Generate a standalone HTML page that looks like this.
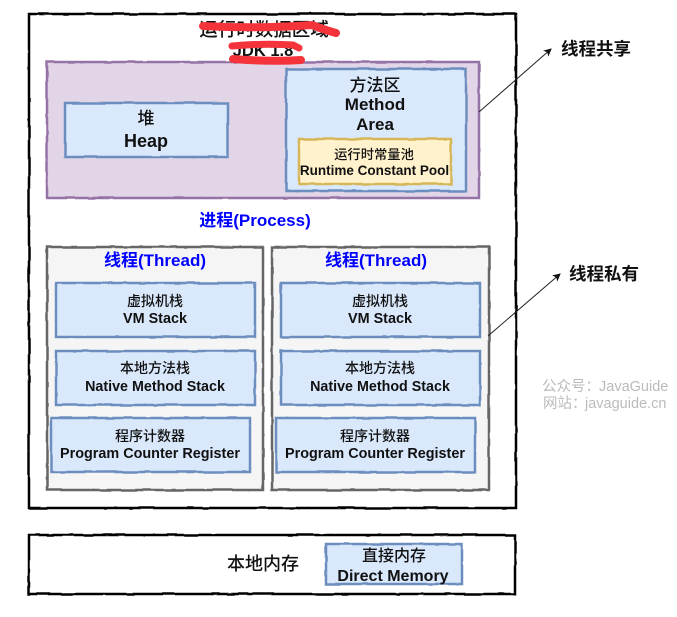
<!DOCTYPE html>
<html><head><meta charset="utf-8"><style>
html,body{margin:0;padding:0;background:#fff}
svg{display:block;filter:blur(0.35px)}
text{font-family:"Liberation Sans","Noto Sans CJK SC",sans-serif;text-anchor:middle;fill:#111}
.b{font-weight:700}
.c{font-weight:500}
.blue{fill:#0000ff;font-weight:700;font-size:17px}
.wm{fill:#bbb;font-size:14.500px;text-anchor:start}
.blu{fill:#dae8fc;stroke:#6c8ebf;stroke-width:2.5}
.gry{fill:#f5f5f5;stroke:#666;stroke-width:2.5}
</style></head><body>
<svg width="677" height="617" viewBox="0 0 677 617" xmlns="http://www.w3.org/2000/svg">
<defs>
<filter id="w" x="0" y="0" width="677" height="617" filterUnits="userSpaceOnUse">
<feTurbulence type="fractalNoise" baseFrequency="0.05" numOctaves="2" seed="4" result="n"/>
<feDisplacementMap in="SourceGraphic" in2="n" scale="2" xChannelSelector="R" yChannelSelector="G"/>
</filter>
<marker id="a" markerWidth="9" markerHeight="8" refX="7" refY="4" orient="auto" markerUnits="userSpaceOnUse"><path d="M0 0L8 4L0 8L2 4Z" fill="#111"/></marker>
</defs>
<g filter="url(#w)">
<rect x="29" y="14" width="487" height="494" fill="#fff" stroke="#000" stroke-width="2.5"/>
<rect x="29" y="535" width="486" height="59" fill="#fff" stroke="#000" stroke-width="2.5"/>
<rect x="47" y="62" width="432" height="136" fill="#e1d5e7" stroke="#9673a6" stroke-width="2.5"/>
<rect class="blu" x="65" y="103" width="163" height="54"/>
<rect class="blu" x="286" y="69" width="180" height="122"/>
<rect x="299" y="139" width="152" height="45" fill="#fff2cc" stroke="#d6b656" stroke-width="2.5"/>
<rect class="gry" x="47" y="247" width="216" height="243"/>
<rect class="blu" x="56" y="283" width="199" height="54"/>
<rect class="blu" x="56" y="351" width="199" height="54"/>
<rect class="blu" x="51" y="418" width="199" height="54"/>
<rect class="gry" x="272" y="247" width="217" height="243"/>
<rect class="blu" x="281" y="283" width="199" height="54"/>
<rect class="blu" x="281" y="351" width="199" height="54"/>
<rect class="blu" x="276" y="418" width="199" height="54"/>
<rect class="blu" x="326" y="544" width="136" height="40"/>
</g>

<line x1="479" y1="112" x2="551" y2="49" stroke="#222" stroke-width="1" marker-end="url(#a)"/>
<line x1="488" y1="336" x2="560" y2="274" stroke="#222" stroke-width="1" marker-end="url(#a)"/>

<text class="c" x="264" y="36" font-size="18.500">运行时数据区域</text>
<text class="b" x="263" y="56" font-size="16.500">JDK 1.8</text>
<g fill="none" stroke="#f4333b" stroke-linecap="round" stroke-linejoin="round">
<path d="M203 26Q260 29 312 25Q322 29 336 33" stroke-width="8"/>
<path d="M232 46Q265 43 293 45L299 48" stroke-width="7"/>
<path d="M233 59Q270 62 301 60" stroke-width="8"/>
</g>

<text class="c" x="146" y="124" font-size="17">堆</text>
<text class="b" x="146" y="147" font-size="18">Heap</text>
<text class="c" x="375" y="91" font-size="17">方法区</text>
<text class="b" x="375" y="110" font-size="17">Method</text>
<text class="b" x="375" y="130" font-size="17">Area</text>
<text class="c" x="374" y="159" font-size="13.300">运行时常量池</text>
<text class="b" x="374.500" y="175" font-size="13.500">Runtime Constant Pool</text>
<text class="blue" x="255" y="226">进程(Process)</text>

<text class="blue" x="155" y="266">线程(Thread)</text>
<text class="c" x="155" y="306" font-size="14">虚拟机栈</text>
<text class="b" x="155" y="323" font-size="14.400">VM Stack</text>
<text class="c" x="155" y="373" font-size="14">本地方法栈</text>
<text class="b" x="155" y="391" font-size="14.300">Native Method Stack</text>
<text class="c" x="150" y="441" font-size="14">程序计数器</text>
<text class="b" x="150" y="458" font-size="14.400">Program Counter Register</text>

<text class="blue" x="376" y="266">线程(Thread)</text>
<text class="c" x="380" y="306" font-size="14">虚拟机栈</text>
<text class="b" x="380" y="323" font-size="14.400">VM Stack</text>
<text class="c" x="380" y="373" font-size="14">本地方法栈</text>
<text class="b" x="380" y="391" font-size="14.300">Native Method Stack</text>
<text class="c" x="375" y="441" font-size="14">程序计数器</text>
<text class="b" x="375" y="458" font-size="14.400">Program Counter Register</text>

<text class="c" x="263" y="570" font-size="18">本地内存</text>
<text class="c" x="394" y="561" font-size="16">直接内存</text>
<text class="b" x="393" y="581" font-size="16">Direct Memory</text>

<text class="b" x="596" y="55" font-size="17.500">线程共享</text>
<text class="b" x="604" y="280" font-size="17.500">线程私有</text>
<text class="wm" x="542" y="391" font-size="14">公众号：</text>
<text class="wm" x="599" y="391">JavaGuide</text>
<text class="wm" x="543" y="408">网站：</text>
<text class="wm" x="585" y="408">javaguide.cn</text>
</svg>
</body></html>
